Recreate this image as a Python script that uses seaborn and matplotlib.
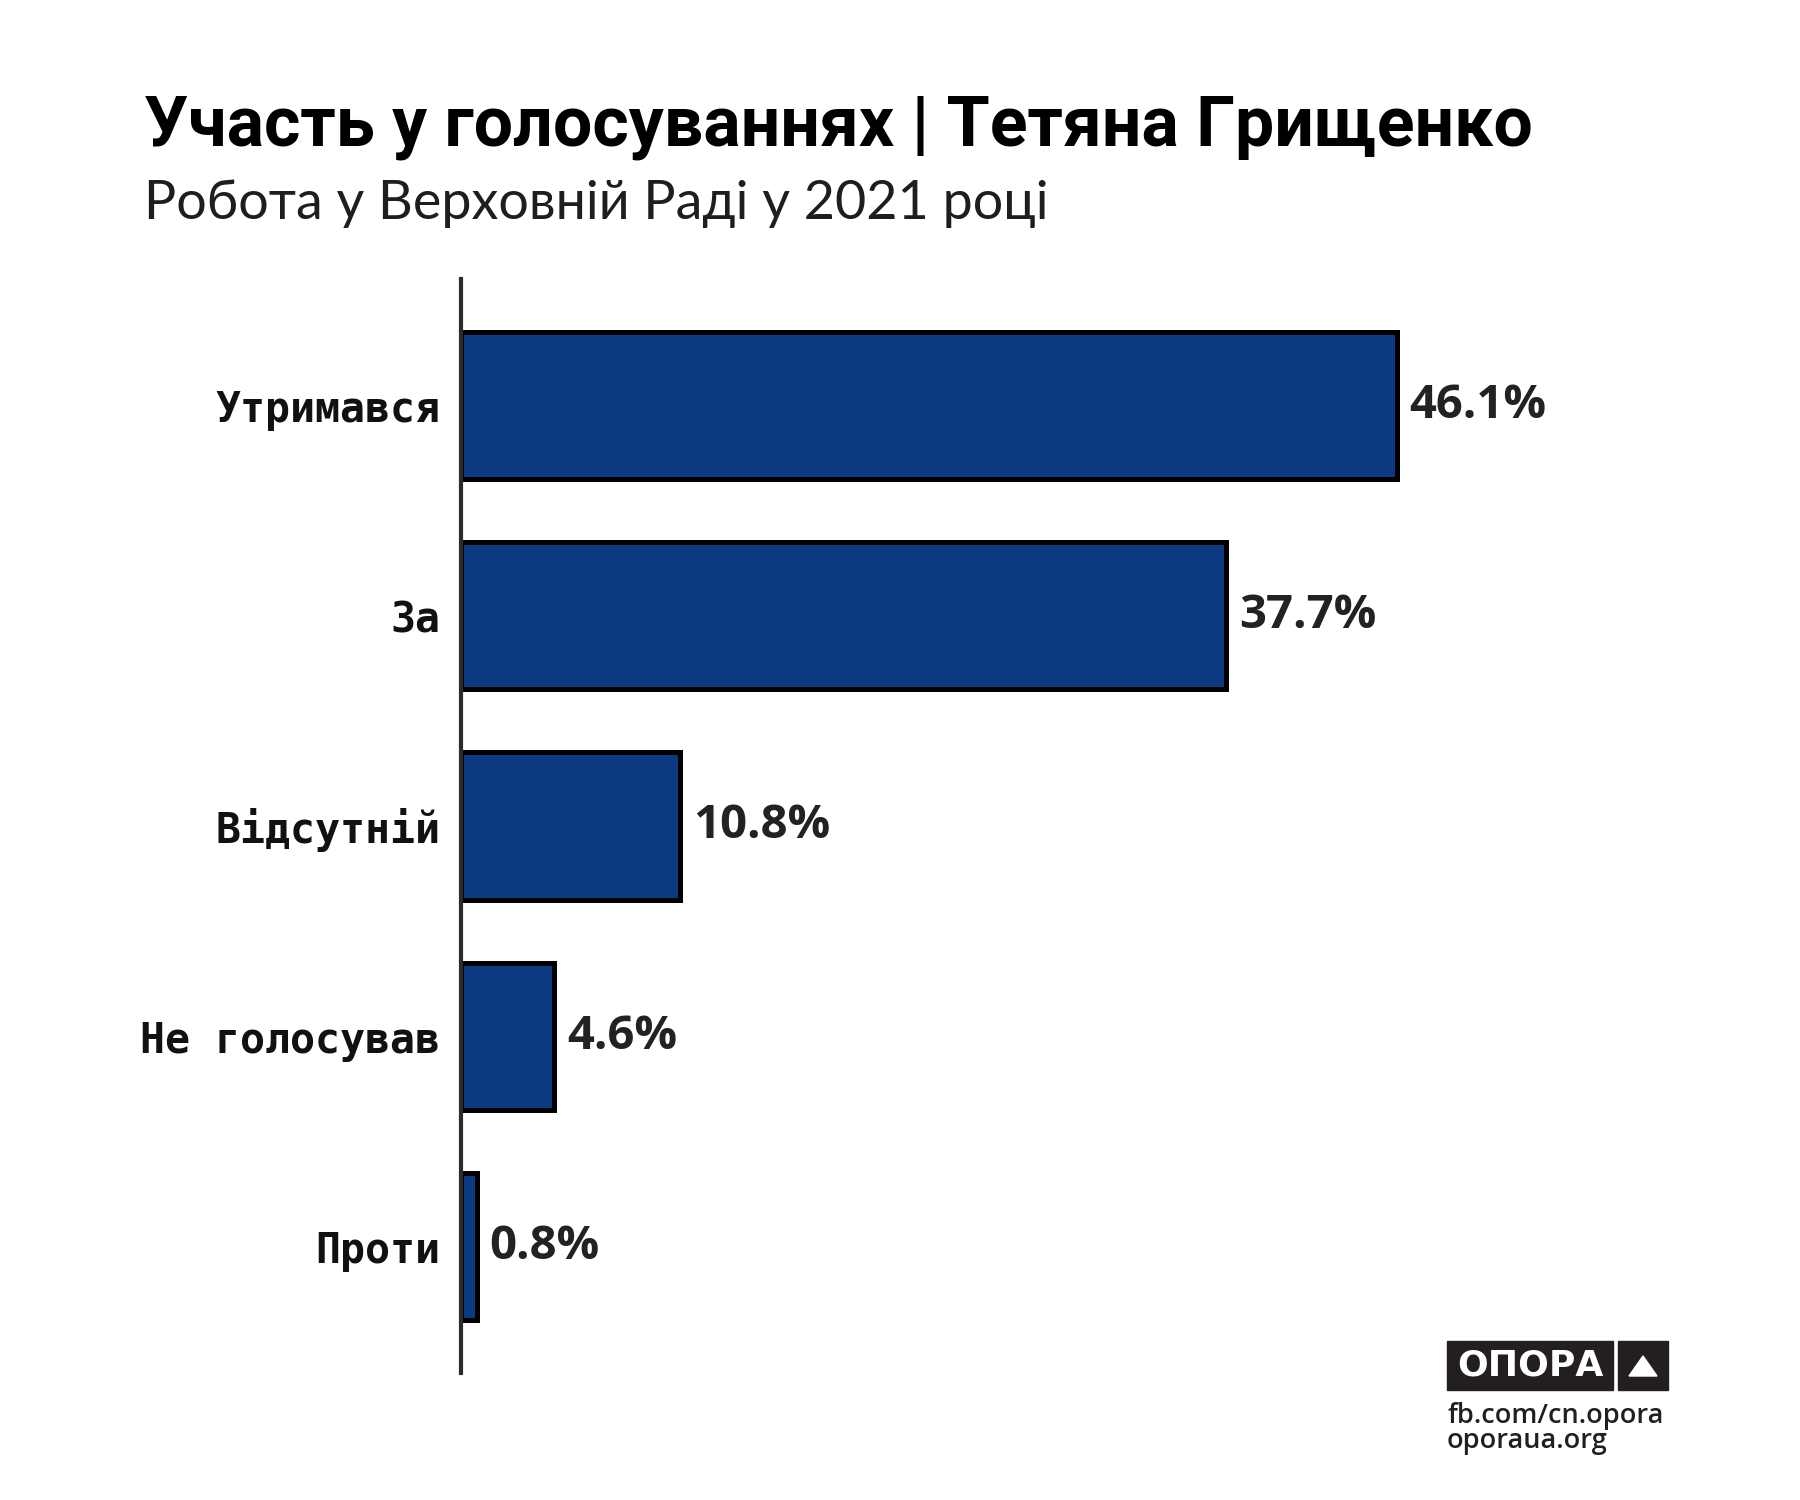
import matplotlib
matplotlib.use("Agg")
import matplotlib.pyplot as plt
from matplotlib.patches import Rectangle, Polygon
import seaborn as sns
import pandas as pd

categories = ["Утримався", "За", "Відсутній", "Не голосував", "Проти"]
values = [46.1, 37.7, 10.8, 4.6, 0.8]
value_labels = ["46.1%", "37.7%", "10.8%", "4.6%", "0.8%"]

title = "Участь у голосуваннях | Тетяна Грищенко"
subtitle = "Робота у Верховній Раді у 2021 році"

sns.set_theme(style="white")
plt.rcParams["font.family"] = ["DejaVu Sans"]

W, H = 1800, 1500
fig = plt.figure(figsize=(18, 15), dpi=100)
fig.patch.set_facecolor("white")

ppu = 20.3
ax_left, ax_right = 461, 461 + 60 * ppu
ax_top, ax_bot = 279, 1373
ax = fig.add_axes([ax_left / W, 1 - ax_bot / H, (ax_right - ax_left) / W, (ax_bot - ax_top) / H])

df = pd.DataFrame({"cat": categories, "val": values})
sns.barplot(data=df, x="val", y="cat", orient="h", color="#0b3a80", saturation=1,
            edgecolor="black", linewidth=3.6, width=0.7, ax=ax)

ax.set_xlim(0, 60)
ax.set_ylim(4.6, -0.6)
ax.set_xlabel("")
ax.set_ylabel("")
ax.set_xticks([])
for s in ["top", "right", "bottom"]:
    ax.spines[s].set_visible(False)
ax.spines["left"].set_color("#2b2b27")
ax.spines["left"].set_linewidth(3.0)
ax.spines["left"].set_zorder(5)
ax.tick_params(axis="y", length=0, pad=15)
for lab in ax.get_yticklabels():
    lab.set_fontfamily("DejaVu Sans Mono")
    lab.set_fontweight("bold")
    lab.set_fontsize(30)
    lab.set_color("#111111")

ax.bar_label(ax.containers[0], labels=value_labels, padding=9,
             fontsize=34, fontweight="bold", color="#222222", family="Open Sans")

fig.text(144 / W, 1 - 145 / H, title, fontsize=50.2, fontweight="bold",
         family="Roboto", color="black", va="baseline", ha="left")
fig.text(144 / W, 1 - 219 / H, subtitle, fontsize=38.8, fontweight="normal",
         family="Lato", color="#1e1e1e", va="baseline", ha="left")

# logo
def px_rect(x0, y0, x1, y1, **kw):
    fig.patches.append(Rectangle((x0 / W, 1 - y1 / H), (x1 - x0) / W, (y1 - y0) / H,
                                 transform=fig.transFigure, **kw))

px_rect(1447, 1341, 1613, 1390, color="#231f20")
px_rect(1618, 1341, 1668, 1390, color="#231f20")
fig.text((1447 + 1613) / 2 / W, 1 - 1366 / H, "ОПОРА", color="white", fontsize=26,
         fontweight="heavy", family="DejaVu Sans", ha="center", va="center")
cx, cy = 1643, 1366
fig.patches.append(Polygon([((cx - 14) / W, 1 - (cy + 10) / H), ((cx + 14) / W, 1 - (cy + 10) / H),
                            (cx / W, 1 - (cy - 10) / H)], closed=True, color="white",
                           transform=fig.transFigure))
fig.text(1447 / W, 1 - 1423 / H, "fb.com/cn.opora", fontsize=19.5, fontweight="semibold",
         family="Open Sans", color="#231f20", ha="left", va="baseline")
fig.text(1447 / W, 1 - 1448 / H, "oporaua.org", fontsize=19.5, fontweight="semibold",
         family="Open Sans", color="#231f20", ha="left", va="baseline")

fig.savefig("out.png", dpi=100, facecolor="white")
